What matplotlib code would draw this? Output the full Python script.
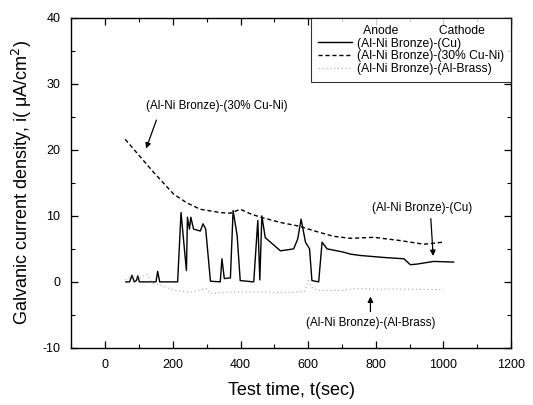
import numpy as np
import matplotlib
matplotlib.use('Agg')
import matplotlib.pyplot as plt
from matplotlib.lines import Line2D

plt.rcParams.update({'font.family': ['Liberation Sans', 'DejaVu Sans'],
                     'axes.unicode_minus': False,
                     'xtick.direction': 'in', 'ytick.direction': 'in',
                     'xtick.top': True, 'ytick.right': True})

# Anode-cathode couples, galvanic current density vs time
t_cu = [61, 72, 79, 86, 92, 96, 101, 150, 155, 161, 214, 224, 240, 243, 249, 253, 261, 281, 289, 297,
        311, 340, 345, 352, 370, 378, 390, 399, 439, 451, 457, 463, 473, 518, 557, 569, 579, 592, 604,
        611, 631, 641, 656, 705, 725, 754, 823, 883, 902, 922, 971, 1030]
i_cu = [0, 0, 1.0, 0, 0.2, 0.9, 0, 0, 1.6, 0, 0, 10.5, 1.7, 9.8, 8.0, 9.8, 8.0, 7.7, 8.8, 8.0,
        0.1, 0, 3.5, 0.5, 0.6, 10.8, 7.0, 0.2, 0, 9.3, 0.3, 10.0, 6.7, 4.7, 5.0, 6.5, 9.5, 6.0, 5.0,
        0.2, 0, 6.0, 5.0, 4.5, 4.2, 4.0, 3.7, 3.5, 2.6, 2.7, 3.1, 3.0]

t_cuni = [59, 84, 143, 202, 240, 281, 340, 370, 399, 430, 459, 518, 577, 616, 675, 725, 794, 873, 942, 996]
i_cuni = [21.6, 20.1, 16.6, 13.3, 12.0, 11.0, 10.5, 10.4, 11.0, 10.3, 9.8, 9.0, 8.4, 7.75, 6.9, 6.6,
          6.75, 6.25, 5.7, 6.0]

t_brass = [60, 80, 100, 123, 140, 163, 200, 250, 300, 311, 350, 400, 450, 500, 550, 590, 600, 610,
           630, 700, 740, 800, 900, 1000]
i_brass = [0.3, 0.8, 0.5, 1.2, -0.2, -0.5, -1.2, -1.6, -1.0, -1.8, -1.6, -1.5, -1.5, -1.6, -1.6,
           -1.4, 0.2, -0.8, -1.3, -1.3, -1.0, -1.1, -1.1, -1.2]

labels = ['(Al-Ni Bronze)-(Cu)', '(Al-Ni Bronze)-(30% Cu-Ni)', '(Al-Ni Bronze)-(Al-Brass)']

fig = plt.figure(figsize=(5.33, 4.05), dpi=100)
ax = fig.add_axes([0.134, 0.141, 0.825, 0.815])

ax.plot(t_cu, i_cu, color='black', lw=1.0, label=labels[0])
ax.plot(t_cuni, i_cuni, color='black', lw=1.0, ls=(0, (3, 2)), label=labels[1])
ax.plot(t_brass, i_brass, color='#a8a8a8', lw=0.8, ls=(0, (1, 2.5)), label=labels[2])

ax.set_xlim(-100, 1200); ax.set_ylim(-10, 40)
ax.set_xticks(np.arange(0, 1201, 200)); ax.set_xticks(np.arange(-100, 1201, 100), minor=True)
ax.set_yticks(np.arange(-10, 41, 10)); ax.set_yticks(np.arange(-10, 41, 5), minor=True)
ax.tick_params(which='major', length=5, width=0.9, labelsize=9, pad=8)
ax.tick_params(which='minor', length=3, width=0.8, top=True, right=True)
for s in ax.spines.values(): s.set_linewidth(1.0)

ax.set_xlabel('Test time, t(sec)', fontsize=13, labelpad=8)
ax.set_ylabel('Galvanic current density, i( μA/cm$^2$)', fontsize=13, labelpad=6)

# legend with header row
header = Line2D([], [], lw=0)
handles, labs = ax.get_legend_handles_labels()
leg = ax.legend([header] + handles, ['  Anode            Cathode'] + labs, loc='upper right',
                bbox_to_anchor=(1.0, 1.0), borderaxespad=0, fontsize=8.7, frameon=True, fancybox=False,
                edgecolor='black', handlelength=2.8, handletextpad=0.4, labelspacing=0.05,
                borderpad=0.6)
leg.get_frame().set_linewidth(0.8)

ann = dict(fontsize=8.4, ha='center', va='center')
ax.text(331, 26.6, labels[1], **ann)
ax.annotate('', xy=(118, 19.8), xytext=(154, 24.9),
            arrowprops=dict(arrowstyle='-|>', color='black', lw=0.9, mutation_scale=8))
ax.text(936, 11.2, labels[0], **ann)
ax.annotate('', xy=(970, 3.5), xytext=(962, 10.0),
            arrowprops=dict(arrowstyle='-|>', color='black', lw=0.9, mutation_scale=8))
ax.text(784, -6.3, labels[2], **ann)
ax.annotate('', xy=(784, -1.8), xytext=(784, -4.9),
            arrowprops=dict(arrowstyle='-|>', color='black', lw=0.9, mutation_scale=8))

fig.savefig('out.png', dpi=100)
